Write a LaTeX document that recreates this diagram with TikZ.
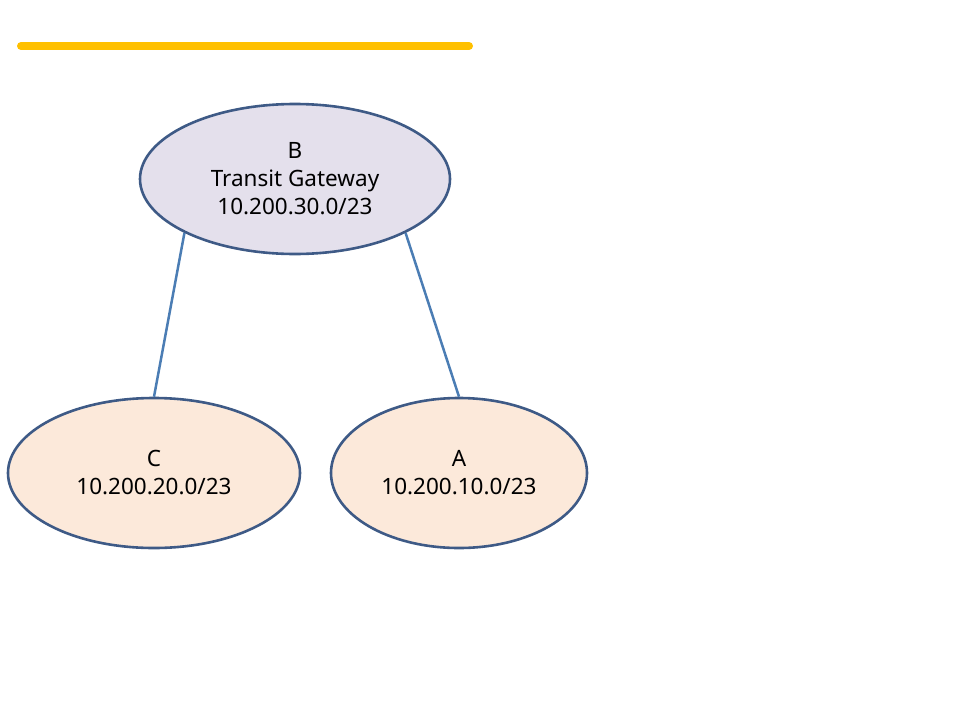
\documentclass[tikz,border=0pt]{standalone}
\usepackage{fontspec}
\setmainfont{Noto Sans}
\usetikzlibrary{shapes.geometric}
\definecolor{barY}{HTML}{FFC000}
\definecolor{edgeC}{HTML}{3E5A86}
\definecolor{lineC}{HTML}{4B7DB4}
\definecolor{fillB}{HTML}{E4E0EC}
\definecolor{fillO}{HTML}{FCE9DA}
\begin{document}
\begin{tikzpicture}[x=1pt,y=-1pt,
  oval/.style={ellipse, draw=edgeC, line width=2.6pt, inner sep=0pt, align=center,
    font=\fontsize{22.5}{28}\selectfont},
  link/.style={draw=lineC, line width=2.5pt}]
\useasboundingbox (0,0) rectangle (960,720);
\draw[barY, line width=8pt, line cap=round] (21,46) coordinate (b1) -- (469,46) coordinate (b2);
\node[oval, fill=fillB, minimum width=310pt, minimum height=150pt] (B) at (295,179) {B\\Transit Gateway\\10.200.30.0/23};
\node[oval, fill=fillO, minimum width=292pt, minimum height=150pt] (C) at (154,473) {C\\10.200.20.0/23};
\node[oval, fill=fillO, minimum width=256pt, minimum height=150pt] (A) at (459,473) {A\\10.200.10.0/23};
\draw[link] (B.206) -- (C.north);
\draw[link] (B.334) -- (A.north);
\end{tikzpicture}
\end{document}
